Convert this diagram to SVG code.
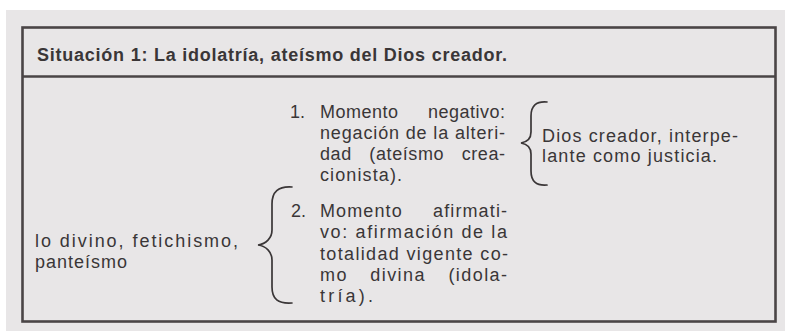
<svg xmlns="http://www.w3.org/2000/svg" width="785" height="331" viewBox="0 0 785 331">
  <style>
    .frame { fill: none; stroke: #4a4546; stroke-width: 2.6; }
    .rule { stroke: #4a4546; stroke-width: 2.6; }
    .head { font-family: "Liberation Sans", Arial, sans-serif; font-weight: bold; font-size: 18px; fill: #3a3637; }
    .body { font-family: "Liberation Sans", Arial, sans-serif; font-size: 18px; fill: #3a3637; }
    .brace { fill: none; stroke: #3a3637; stroke-width: 1.7; stroke-linecap: round; }
  </style>
  <rect x="0" y="0" width="785" height="331" fill="#ffffff"/>
  <rect x="6" y="10" width="779" height="321" fill="#e8e6e7"/>
  <g id="frame">
    <rect class="frame" x="22.5" y="27.5" width="753" height="294"/>
    <line class="rule" x1="22" y1="76.5" x2="776" y2="76.5"/>
  </g>
  <g id="title">
    <text class="head" x="37" y="61" textLength="470" lengthAdjust="spacing">Situación 1: La idolatría, ateísmo del Dios creador.</text>
  </g>
  <g id="moment1">
    <text class="body" x="290" y="118">1.</text>
    <text class="body" x="320" y="118" textLength="185" lengthAdjust="spacing" word-spacing="24">Momento negativo:</text>
    <text class="body" x="320" y="139" textLength="185" lengthAdjust="spacing">negación de la alteri-</text>
    <text class="body" x="320" y="160" textLength="185" lengthAdjust="spacing" word-spacing="12">dad (ateísmo crea-</text>
    <text class="body" x="320" y="181" textLength="82" lengthAdjust="spacing">cionista).</text>
  </g>
  <g id="creator">
    <text class="body" x="542" y="142" textLength="196" lengthAdjust="spacing">Dios creador, interpe-</text>
    <text class="body" x="542" y="162" textLength="175" lengthAdjust="spacing">lante como justicia.</text>
  </g>
  <g id="moment2">
    <text class="body" x="291" y="217">2.</text>
    <text class="body" x="320" y="217" textLength="187" lengthAdjust="spacing" word-spacing="24">Momento afirmati-</text>
    <text class="body" x="320" y="238" textLength="187" lengthAdjust="spacing">vo: afirmación de la</text>
    <text class="body" x="320" y="259.5" textLength="188" lengthAdjust="spacing">totalidad vigente co-</text>
    <text class="body" x="320" y="280.5" textLength="187" lengthAdjust="spacing" word-spacing="16">mo divina (idola-</text>
    <text class="body" x="320" y="302" textLength="53" lengthAdjust="spacing">tría).</text>
  </g>
  <g id="divine">
    <text class="body" x="35" y="247" textLength="203" lengthAdjust="spacing">lo divino, fetichismo,</text>
    <text class="body" x="35" y="268" textLength="92" lengthAdjust="spacing">panteísmo</text>
  </g>
  <g id="connectors">
    <path class="brace" d="M547,102 C536,101 531,106 531,116 L531,132 C531,138 527,142 521,143 C527,144 531,148 531,154 L531,171 C531,181 536,186 547,185"/>
    <path class="brace" d="M292,187 C278,186 272,192 272,204 L272,230 C272,238 266,244 258,245 C266,246 272,252 272,260 L272,287 C272,299 278,304 292,303"/>
  </g>
</svg>
